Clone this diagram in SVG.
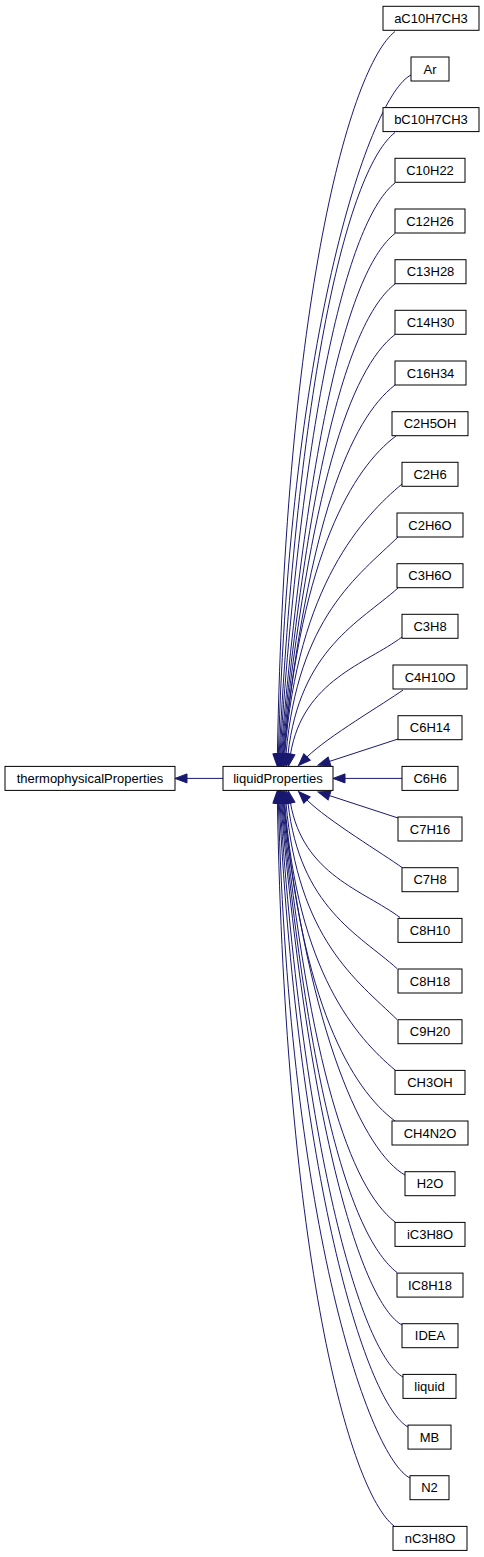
<svg xmlns="http://www.w3.org/2000/svg" width="484" height="1557" viewBox="0 0 484 1557">
<style>
.n rect{fill:#fff;stroke:#000;stroke-width:1}
.n text{font-family:"Liberation Sans",Arial,sans-serif;font-size:13px;text-anchor:middle;fill:#000}
.e path{fill:none;stroke:#191970;stroke-width:1;marker-end:url(#arr)}
</style>
<defs>
<marker id="arr" markerUnits="userSpaceOnUse" markerWidth="14" markerHeight="12" viewBox="0 -6 14 12" refX="0" refY="0" orient="auto" overflow="visible">
<path d="M0,-4.5 L12,0 L0,4.5 Z" fill="#191970" stroke="#191970" stroke-width="1"/>
</marker>
</defs>
<rect width="484" height="1557" fill="#fff"/>
<g class="e" id="edges">
<path d="M223,778.4 L187,778.4"/>
<path d="M395,31.5 C350,66.5 285.5,298.8 277.4,754"/>
<path d="M411,75 C371,95 289.8,326.2 278.4,754"/>
<path d="M395,132.5 C350,167.5 299.6,362.5 279.2,754"/>
<path d="M395,183 C350,218 304.2,394.3 280,754"/>
<path d="M395,233.5 C350,268.5 309.2,426.1 280.8,754"/>
<path d="M395,284 C350,319 310,457.9 281.6,754"/>
<path d="M395,334.5 C350,369.5 309.6,489.7 282.4,754"/>
<path d="M395,385 C350,420 308.4,521.5 283.2,754"/>
<path d="M396,436 C353,468 301.2,553.7 284,754"/>
<path d="M402,484 C364,516 297.6,584 284.8,754"/>
<path d="M398,537 C358,576 298,617 286,754"/>
<path d="M398,588 C360,622 300,649 288,754"/>
<path d="M402,637 C366,664 303,680 290.5,754"/>
<path d="M403,690 C385,703 327,737 307,757"/>
<path d="M398,739 L329.5,761.4"/>
<path d="M402,778.4 L345,778.4"/>
<path d="M398,818 L329.5,795.6"/>
<path d="M402,867.5 C384,854.5 327,820 307,800"/>
<path d="M400,917.5 C364,890.5 303,875 290.5,803"/>
<path d="M397,968.5 C359,934.5 300,907.3 288,803"/>
<path d="M397,1019.5 C357,980.5 298,940 286,803"/>
<path d="M395,1070 C357,1038 297.6,973 284.8,803"/>
<path d="M395,1121 C352,1089 301.2,1003.3 284,803"/>
<path d="M405,1175 C365,1153 308.4,1035.5 283.2,803"/>
<path d="M395,1222 C350,1187 309.6,1067.3 282.4,803"/>
<path d="M397,1272.5 C352,1237.5 310,1099.1 281.6,803"/>
<path d="M402,1325 C362,1303 309.2,1130.9 280.8,803"/>
<path d="M403,1377 C363,1355 304.2,1162.7 280,803"/>
<path d="M408,1427 C368,1405 299.6,1194.5 279.2,803"/>
<path d="M410,1478 C370,1458 289.8,1230.8 278.4,803"/>
<path d="M394,1526 C349,1490.5 285.5,1258.2 277.4,803"/>
</g>
<g class="n" id="thermophysicalProperties"><rect x="5" y="766.4" width="170" height="24"/><text x="90" y="783">thermophysicalProperties</text></g>
<g class="n" id="liquidProperties"><rect x="223" y="766.4" width="110" height="24"/><text x="278" y="783">liquidProperties</text></g>
<g class="n" id="aC10H7CH3"><rect x="383" y="6.3" width="96" height="24"/><text x="431" y="22.9">aC10H7CH3</text></g>
<g class="n" id="Ar"><rect x="411" y="57" width="38" height="24"/><text x="430" y="73.6">Ar</text></g>
<g class="n" id="bC10H7CH3"><rect x="383" y="107.6" width="96" height="24"/><text x="431" y="124.2">bC10H7CH3</text></g>
<g class="n" id="C10H22"><rect x="395" y="158.3" width="70" height="24"/><text x="430" y="174.9">C10H22</text></g>
<g class="n" id="C12H26"><rect x="395" y="209" width="70" height="24"/><text x="430" y="225.6">C12H26</text></g>
<g class="n" id="C13H28"><rect x="395" y="259.7" width="71" height="24"/><text x="430.5" y="276.3">C13H28</text></g>
<g class="n" id="C14H30"><rect x="395" y="310.3" width="71" height="24"/><text x="430.5" y="326.9">C14H30</text></g>
<g class="n" id="C16H34"><rect x="395" y="361" width="71" height="24"/><text x="430.5" y="377.6">C16H34</text></g>
<g class="n" id="C2H5OH"><rect x="392" y="411.7" width="76" height="24"/><text x="430" y="428.3">C2H5OH</text></g>
<g class="n" id="C2H6"><rect x="402" y="462.3" width="56" height="24"/><text x="430" y="478.9">C2H6</text></g>
<g class="n" id="C2H6O"><rect x="397" y="513" width="66" height="24"/><text x="430" y="529.6">C2H6O</text></g>
<g class="n" id="C3H6O"><rect x="397" y="563.7" width="66" height="24"/><text x="430" y="580.3">C3H6O</text></g>
<g class="n" id="C3H8"><rect x="402" y="614.3" width="56" height="24"/><text x="430" y="630.9">C3H8</text></g>
<g class="n" id="C4H10O"><rect x="393" y="665" width="74" height="24"/><text x="430" y="681.6">C4H10O</text></g>
<g class="n" id="C6H14"><rect x="398" y="715.7" width="64" height="24"/><text x="430" y="732.3">C6H14</text></g>
<g class="n" id="C6H6"><rect x="402" y="766.4" width="56" height="24"/><text x="430" y="783">C6H6</text></g>
<g class="n" id="C7H16"><rect x="398" y="817" width="64" height="24"/><text x="430" y="833.6">C7H16</text></g>
<g class="n" id="C7H8"><rect x="402" y="867.7" width="56" height="24"/><text x="430" y="884.3">C7H8</text></g>
<g class="n" id="C8H10"><rect x="398" y="918.4" width="64" height="24"/><text x="430" y="935">C8H10</text></g>
<g class="n" id="C8H18"><rect x="398" y="969" width="64" height="24"/><text x="430" y="985.6">C8H18</text></g>
<g class="n" id="C9H20"><rect x="398" y="1019.7" width="64" height="24"/><text x="430" y="1036.3">C9H20</text></g>
<g class="n" id="CH3OH"><rect x="395" y="1070.4" width="70" height="24"/><text x="430" y="1087">CH3OH</text></g>
<g class="n" id="CH4N2O"><rect x="392" y="1121" width="76" height="24"/><text x="430" y="1137.6">CH4N2O</text></g>
<g class="n" id="H2O"><rect x="405" y="1171.7" width="50" height="24"/><text x="430" y="1188.3">H2O</text></g>
<g class="n" id="iC3H8O"><rect x="395" y="1222.4" width="70" height="24"/><text x="430" y="1239">iC3H8O</text></g>
<g class="n" id="IC8H18"><rect x="397" y="1273.1" width="66" height="24"/><text x="430" y="1289.7">IC8H18</text></g>
<g class="n" id="IDEA"><rect x="402" y="1323.7" width="56" height="24"/><text x="430" y="1340.3">IDEA</text></g>
<g class="n" id="liquid"><rect x="403" y="1374.4" width="53" height="24"/><text x="429.5" y="1391">liquid</text></g>
<g class="n" id="MB"><rect x="408" y="1425.1" width="43" height="24"/><text x="429.5" y="1441.7">MB</text></g>
<g class="n" id="N2"><rect x="410" y="1475.7" width="39" height="24"/><text x="429.5" y="1492.3">N2</text></g>
<g class="n" id="nC3H8O"><rect x="393" y="1526.4" width="74" height="24"/><text x="430" y="1543">nC3H8O</text></g>
</svg>
